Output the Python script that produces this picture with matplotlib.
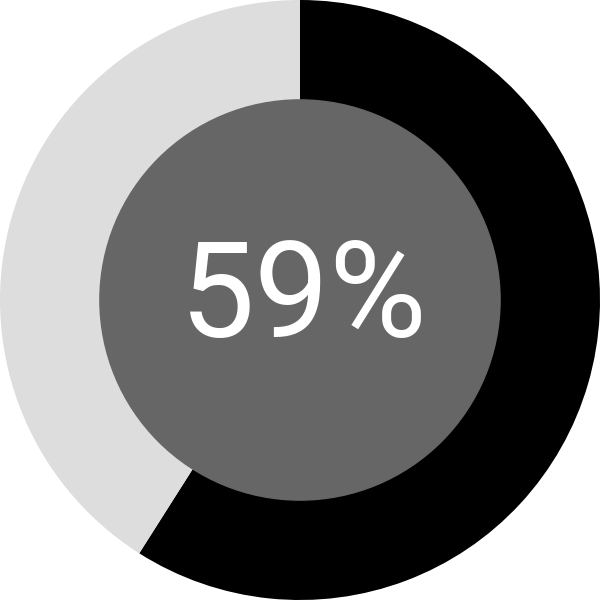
import matplotlib
matplotlib.use("Agg")
import matplotlib.pyplot as plt

# data
labels = ["Done", "Remaining"]
values = [59, 41]
colors = ["#000000", "#dddddd"]
center_text = "59%"

fig = plt.figure(figsize=(6, 6), dpi=100)
ax = fig.add_axes([0, 0, 1, 1])

# outer ring, starts at top and runs clockwise
ax.pie(values, colors=colors, startangle=90, counterclock=False,
       radius=1.0, wedgeprops=dict(linewidth=0))

# inner disc
ax.add_patch(plt.Circle((0, 0), 0.667, color="#666666", zorder=3))

ax.text(0.013, 0.0, center_text, ha="center", va="center", color="white",
        fontsize=96, family=["Roboto", "DejaVu Sans"], zorder=4)

ax.set_xlim(-1, 1)
ax.set_ylim(-1, 1)
ax.set_aspect("equal")
ax.axis("off")

fig.savefig("out.png", dpi=100, facecolor="white")
